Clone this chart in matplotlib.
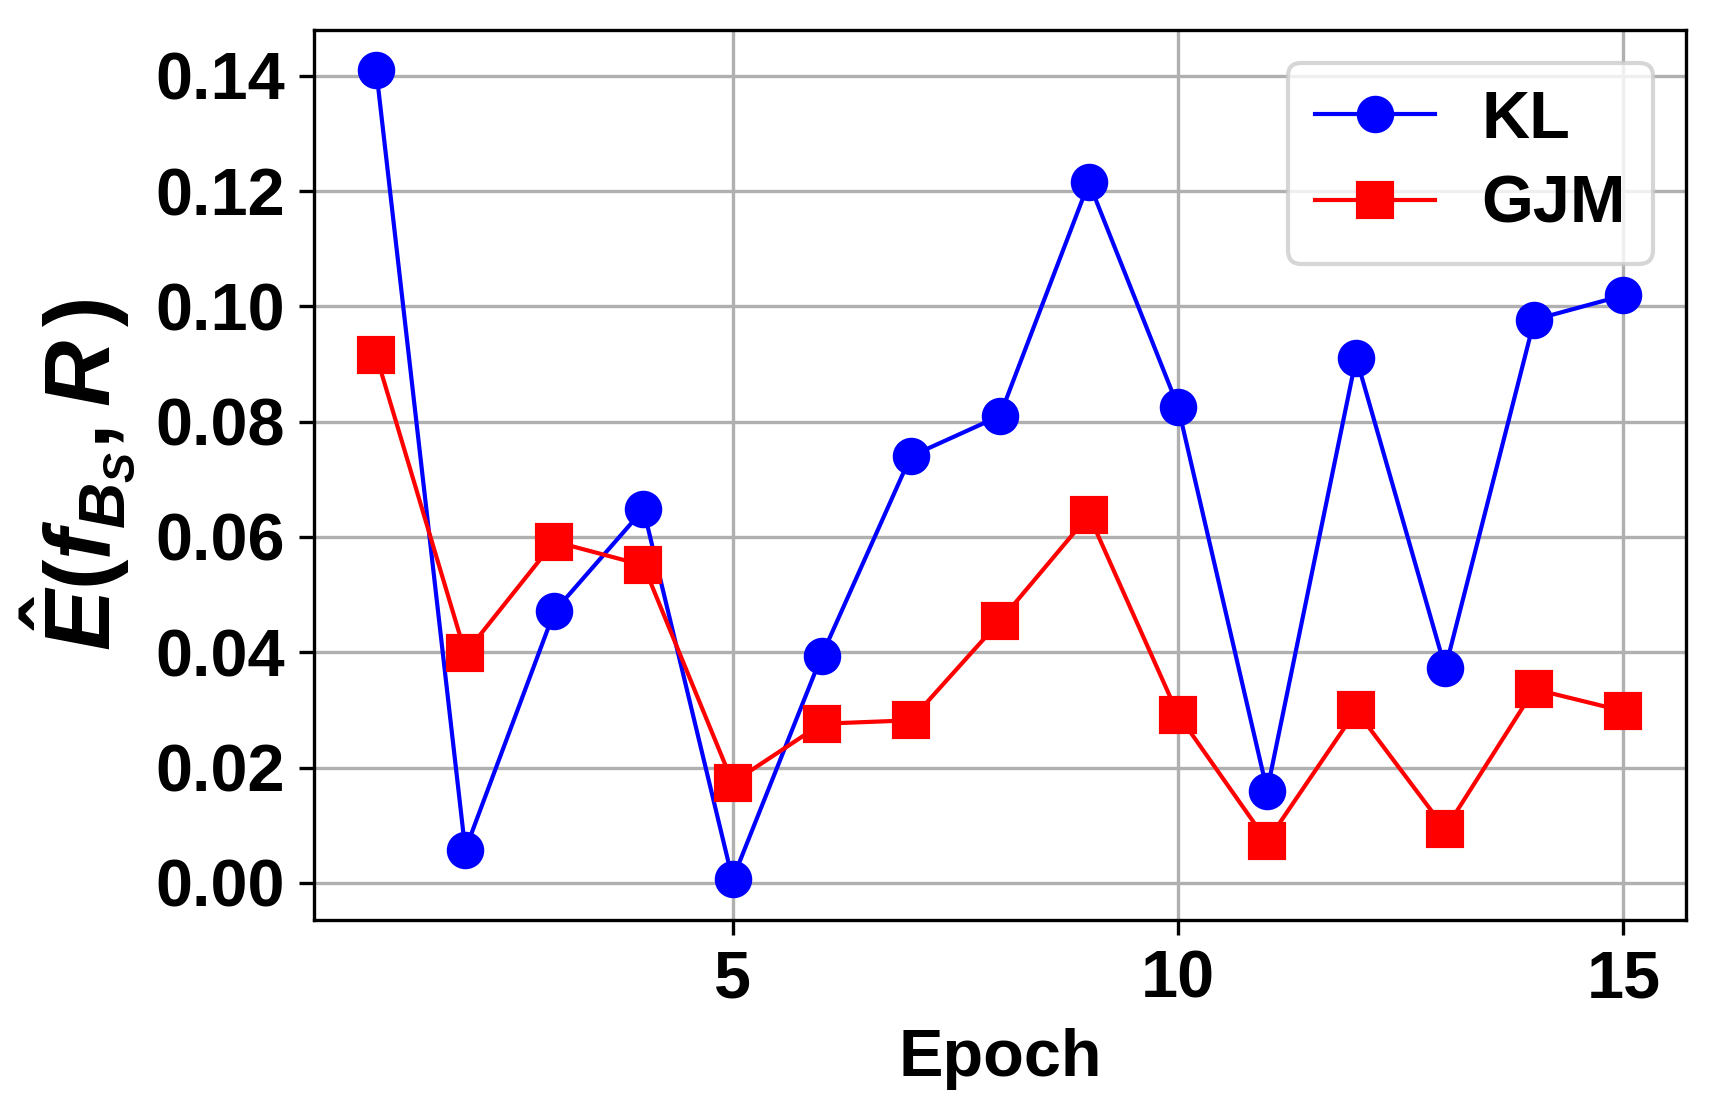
import numpy as np
import matplotlib.pyplot as plt

plt.rcParams['font.family'] = 'Liberation Sans'
plt.rcParams['font.weight'] = 'bold'
plt.rcParams['mathtext.fontset'] = 'custom'
plt.rcParams['mathtext.rm'] = 'Liberation Sans:bold'
plt.rcParams['mathtext.it'] = 'Liberation Sans:italic:bold'
plt.rcParams['mathtext.bf'] = 'Liberation Sans:bold'

# values
epochs = np.arange(1, 16)
kl = [0.1410, 0.0057, 0.0471, 0.0648, 0.0006, 0.0394, 0.0740, 0.0810,
      0.1215, 0.0826, 0.0160, 0.0911, 0.0372, 0.0977, 0.1019]
gjm = [0.0915, 0.0398, 0.0592, 0.0551, 0.0174, 0.0276, 0.0282, 0.0454,
       0.0638, 0.0292, 0.0072, 0.0299, 0.0093, 0.0336, 0.0298]
yticks = [0.00, 0.02, 0.04, 0.06, 0.08, 0.10, 0.12, 0.14]

fig, ax = plt.subplots(figsize=(17.15 / 3, 11.15 / 3), dpi=300)
fig.subplots_adjust(left=0.183, right=0.983, top=0.9735, bottom=0.175)

ax.plot(epochs, kl, color='blue', marker='o', markersize=8, linewidth=1, label='KL')
ax.plot(epochs, gjm, color='red', marker='s', markersize=8, linewidth=1, label='GJM')

ax.set_xticks([5, 10, 15])
ax.set_yticks(yticks)
ax.set_yticklabels(['%.2f' % t for t in yticks])
ax.tick_params(labelsize=16)
ax.grid(True)
ax.set_axisbelow(True)

ax.set_xlabel('Epoch', fontsize=16, fontweight='bold')
ax.set_ylabel(r'$\hat{E}(f_{B_S},R\,)$', fontsize=22)

ax.legend(loc='upper right', fontsize=16, labelspacing=0.35,
          handlelength=1.8, handletextpad=0.7)

fig.savefig('out.png', dpi=300)
